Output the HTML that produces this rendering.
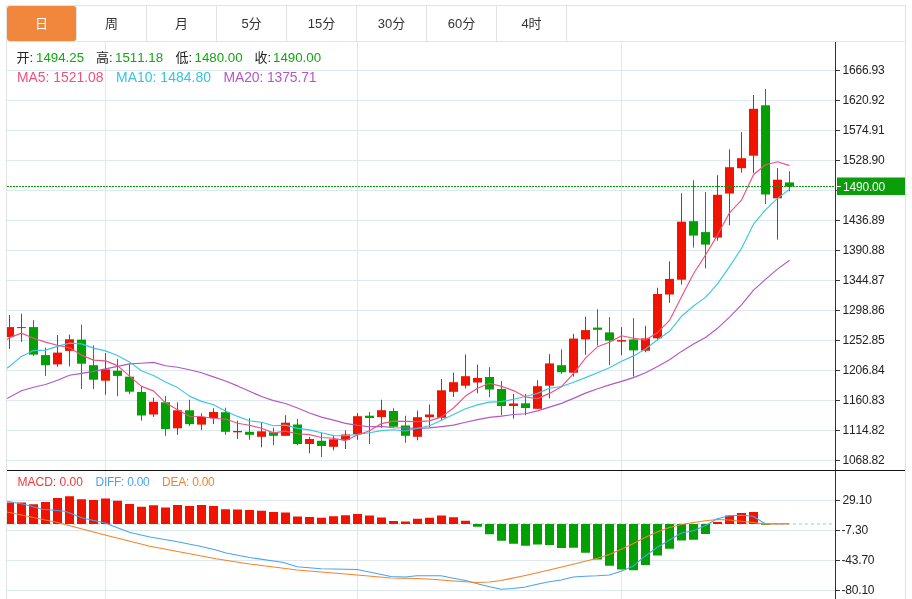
<!DOCTYPE html>
<html lang="zh"><head><meta charset="utf-8"><title>K线图</title>
<style>
html,body{margin:0;padding:0;background:#fff;}
body{width:912px;height:599px;overflow:hidden;position:relative;font-family:"Liberation Sans","Noto Sans CJK SC",sans-serif;}
#box{position:absolute;left:6px;top:5px;width:898px;height:600px;border:1px solid #e3e3e3;box-sizing:content-box;}
#tabs{position:absolute;left:7px;top:6px;height:35px;width:898px;border-bottom:1px solid #e3e3e3;}
.tab{position:absolute;top:0;height:35px;width:69px;border-right:1px solid #e3e3e3;text-align:center;line-height:36.4px;font-size:13px;color:#333;}
.tab.on{background:#f0873d;color:#fff;border-radius:3px;}
svg{position:absolute;left:0;top:0;}
text{font-kerning:none}.t{font-kerning:none}.ax{font-family:"Liberation Sans",sans-serif;font-size:12px;fill:#222;letter-spacing:-0.2px;}
.t{position:absolute;white-space:nowrap;font-size:13px;line-height:16px;}
</style></head><body>
<div id="box"></div>
<div id="tabs">
<div class="tab on" style="left:0">日</div><div class="tab" style="left:70px">周</div><div class="tab" style="left:140px">月</div><div class="tab" style="left:210px">5分</div><div class="tab" style="left:280px">15分</div><div class="tab" style="left:350px">30分</div><div class="tab" style="left:420px">60分</div><div class="tab" style="left:490px">4时</div>
</div>
<svg width="912" height="599" viewBox="0 0 912 599">
<defs><clipPath id="clipm"><rect x="7" y="42" width="828" height="428"/></clipPath><clipPath id="clipd"><rect x="7" y="471" width="828" height="128"/></clipPath></defs>
<rect x="7" y="70" width="828" height="1" fill="#dde9f1"/>
<rect x="7" y="100" width="828" height="1" fill="#dde9f1"/>
<rect x="7" y="130" width="828" height="1" fill="#dde9f1"/>
<rect x="7" y="160" width="828" height="1" fill="#dde9f1"/>
<rect x="7" y="190" width="828" height="1" fill="#dde9f1"/>
<rect x="7" y="220" width="828" height="1" fill="#dde9f1"/>
<rect x="7" y="250" width="828" height="1" fill="#dde9f1"/>
<rect x="7" y="280" width="828" height="1" fill="#dde9f1"/>
<rect x="7" y="310" width="828" height="1" fill="#dde9f1"/>
<rect x="7" y="340" width="828" height="1" fill="#dde9f1"/>
<rect x="7" y="370" width="828" height="1" fill="#dde9f1"/>
<rect x="7" y="400" width="828" height="1" fill="#dde9f1"/>
<rect x="7" y="430" width="828" height="1" fill="#dde9f1"/>
<rect x="7" y="460" width="828" height="1" fill="#dde9f1"/>
<rect x="7" y="500" width="828" height="1" fill="#dde9f1"/>
<rect x="7" y="530" width="828" height="1" fill="#dde9f1"/>
<rect x="7" y="560" width="828" height="1" fill="#dde9f1"/>
<rect x="7" y="590" width="828" height="1" fill="#dde9f1"/>
<rect x="105" y="42" width="1" height="557" fill="#dde9f1"/>
<rect x="357" y="42" width="1" height="557" fill="#dde9f1"/>
<rect x="621" y="42" width="1" height="557" fill="#dde9f1"/>
<g clip-path="url(#clipm)"><rect x="9.0" y="315.0" width="1" height="33.9" fill="#ef1300"/><rect x="5.0" y="327.1" width="9" height="10.0" fill="#ef1300"/><rect x="21.0" y="313.8" width="1" height="28.1" fill="#ef1300"/><rect x="17.0" y="327.1" width="9" height="1.0" fill="#ef1300"/><rect x="33.0" y="320.1" width="1" height="36.0" fill="#02a002"/><rect x="29.0" y="327.1" width="9" height="27.5" fill="#02a002"/><rect x="45.0" y="347.6" width="1" height="28.3" fill="#02a002"/><rect x="41.0" y="355.1" width="9" height="10.1" fill="#02a002"/><rect x="57.0" y="335.1" width="1" height="31.6" fill="#ef1300"/><rect x="53.0" y="352.6" width="9" height="11.8" fill="#ef1300"/><rect x="69.0" y="334.6" width="1" height="31.8" fill="#ef1300"/><rect x="65.0" y="339.3" width="9" height="11.6" fill="#ef1300"/><rect x="81.0" y="324.6" width="1" height="64.4" fill="#02a002"/><rect x="77.0" y="339.6" width="9" height="24.1" fill="#02a002"/><rect x="93.0" y="345.4" width="1" height="43.8" fill="#02a002"/><rect x="89.0" y="365.2" width="9" height="14.5" fill="#02a002"/><rect x="105.0" y="353.1" width="1" height="41.6" fill="#ef1300"/><rect x="101.0" y="369.4" width="9" height="11.3" fill="#ef1300"/><rect x="117.0" y="359.1" width="1" height="37.1" fill="#02a002"/><rect x="113.0" y="370.7" width="9" height="5.2" fill="#02a002"/><rect x="129.0" y="363.9" width="1" height="30.3" fill="#02a002"/><rect x="125.0" y="376.7" width="9" height="15.0" fill="#02a002"/><rect x="141.0" y="386.5" width="1" height="34.1" fill="#02a002"/><rect x="137.0" y="392.0" width="9" height="23.5" fill="#02a002"/><rect x="153.0" y="397.7" width="1" height="19.1" fill="#ef1300"/><rect x="149.0" y="401.8" width="9" height="12.7" fill="#ef1300"/><rect x="165.0" y="396.0" width="1" height="39.8" fill="#02a002"/><rect x="161.0" y="402.3" width="9" height="26.8" fill="#02a002"/><rect x="177.0" y="402.3" width="1" height="32.5" fill="#ef1300"/><rect x="173.0" y="410.3" width="9" height="18.0" fill="#ef1300"/><rect x="189.0" y="399.7" width="1" height="26.4" fill="#02a002"/><rect x="185.0" y="410.3" width="9" height="13.8" fill="#02a002"/><rect x="201.0" y="413.3" width="1" height="16.8" fill="#ef1300"/><rect x="197.0" y="417.0" width="9" height="7.6" fill="#ef1300"/><rect x="213.0" y="408.3" width="1" height="15.8" fill="#ef1300"/><rect x="209.0" y="412.0" width="9" height="6.0" fill="#ef1300"/><rect x="225.0" y="407.7" width="1" height="27.1" fill="#02a002"/><rect x="221.0" y="412.2" width="9" height="19.6" fill="#02a002"/><rect x="237.0" y="420.7" width="1" height="18.3" fill="#ef1300"/><rect x="233.0" y="431.0" width="9" height="1.3" fill="#ef1300"/><rect x="249.0" y="418.2" width="1" height="21.6" fill="#02a002"/><rect x="245.0" y="431.8" width="9" height="3.0" fill="#02a002"/><rect x="261.0" y="422.2" width="1" height="25.1" fill="#ef1300"/><rect x="257.0" y="431.3" width="9" height="5.5" fill="#ef1300"/><rect x="273.0" y="427.7" width="1" height="17.6" fill="#02a002"/><rect x="269.0" y="432.3" width="9" height="3.5" fill="#02a002"/><rect x="285.0" y="415.2" width="1" height="20.6" fill="#ef1300"/><rect x="281.0" y="422.7" width="9" height="13.1" fill="#ef1300"/><rect x="297.0" y="419.0" width="1" height="26.3" fill="#02a002"/><rect x="293.0" y="424.5" width="9" height="19.5" fill="#02a002"/><rect x="309.0" y="437.0" width="1" height="16.3" fill="#ef1300"/><rect x="305.0" y="439.0" width="9" height="5.0" fill="#ef1300"/><rect x="321.0" y="432.8" width="1" height="24.3" fill="#02a002"/><rect x="317.0" y="440.8" width="9" height="5.2" fill="#02a002"/><rect x="333.0" y="435.3" width="1" height="15.0" fill="#ef1300"/><rect x="329.0" y="439.3" width="9" height="7.5" fill="#ef1300"/><rect x="345.0" y="430.3" width="1" height="18.7" fill="#ef1300"/><rect x="341.0" y="434.5" width="9" height="5.3" fill="#ef1300"/><rect x="357.0" y="413.2" width="1" height="26.6" fill="#ef1300"/><rect x="353.0" y="416.2" width="9" height="17.8" fill="#ef1300"/><rect x="369.0" y="412.0" width="1" height="32.0" fill="#02a002"/><rect x="365.0" y="415.7" width="9" height="2.3" fill="#02a002"/><rect x="381.0" y="399.7" width="1" height="28.0" fill="#ef1300"/><rect x="377.0" y="410.2" width="9" height="6.8" fill="#ef1300"/><rect x="393.0" y="408.2" width="1" height="19.5" fill="#02a002"/><rect x="389.0" y="411.0" width="9" height="15.7" fill="#02a002"/><rect x="405.0" y="415.7" width="1" height="27.1" fill="#02a002"/><rect x="401.0" y="425.5" width="9" height="10.3" fill="#02a002"/><rect x="417.0" y="410.5" width="1" height="29.8" fill="#ef1300"/><rect x="413.0" y="417.2" width="9" height="19.6" fill="#ef1300"/><rect x="429.0" y="404.4" width="1" height="22.8" fill="#ef1300"/><rect x="425.0" y="414.5" width="9" height="2.7" fill="#ef1300"/><rect x="441.0" y="379.0" width="1" height="41.3" fill="#ef1300"/><rect x="437.0" y="390.3" width="9" height="27.5" fill="#ef1300"/><rect x="453.0" y="372.7" width="1" height="24.3" fill="#ef1300"/><rect x="449.0" y="382.2" width="9" height="9.6" fill="#ef1300"/><rect x="465.0" y="354.4" width="1" height="34.1" fill="#ef1300"/><rect x="461.0" y="376.2" width="9" height="9.5" fill="#ef1300"/><rect x="477.0" y="364.7" width="1" height="28.6" fill="#ef1300"/><rect x="473.0" y="378.0" width="9" height="4.5" fill="#ef1300"/><rect x="489.0" y="367.2" width="1" height="30.1" fill="#02a002"/><rect x="485.0" y="377.0" width="9" height="12.5" fill="#02a002"/><rect x="501.0" y="381.0" width="1" height="34.3" fill="#02a002"/><rect x="497.0" y="389.0" width="9" height="17.0" fill="#02a002"/><rect x="513.0" y="394.0" width="1" height="24.6" fill="#ef1300"/><rect x="509.0" y="403.5" width="9" height="2.5" fill="#ef1300"/><rect x="525.0" y="394.0" width="1" height="21.3" fill="#02a002"/><rect x="521.0" y="403.3" width="9" height="4.7" fill="#02a002"/><rect x="537.0" y="380.2" width="1" height="28.6" fill="#ef1300"/><rect x="533.0" y="386.2" width="9" height="22.6" fill="#ef1300"/><rect x="549.0" y="354.2" width="1" height="44.1" fill="#ef1300"/><rect x="545.0" y="363.4" width="9" height="22.3" fill="#ef1300"/><rect x="561.0" y="349.4" width="1" height="24.6" fill="#02a002"/><rect x="557.0" y="365.2" width="9" height="7.0" fill="#02a002"/><rect x="573.0" y="333.9" width="1" height="42.6" fill="#ef1300"/><rect x="569.0" y="338.6" width="9" height="34.1" fill="#ef1300"/><rect x="585.0" y="316.8" width="1" height="37.9" fill="#ef1300"/><rect x="581.0" y="330.1" width="9" height="9.3" fill="#ef1300"/><rect x="597.0" y="309.3" width="1" height="36.3" fill="#02a002"/><rect x="593.0" y="327.6" width="9" height="2.2" fill="#02a002"/><rect x="609.0" y="317.1" width="1" height="48.1" fill="#02a002"/><rect x="605.0" y="332.4" width="9" height="8.2" fill="#02a002"/><rect x="621.0" y="327.1" width="1" height="28.1" fill="#ef1300"/><rect x="617.0" y="340.1" width="9" height="1.5" fill="#ef1300"/><rect x="633.0" y="318.1" width="1" height="58.4" fill="#02a002"/><rect x="629.0" y="339.4" width="9" height="11.0" fill="#02a002"/><rect x="645.0" y="325.8" width="1" height="26.4" fill="#ef1300"/><rect x="641.0" y="338.4" width="9" height="12.3" fill="#ef1300"/><rect x="657.0" y="287.7" width="1" height="52.7" fill="#ef1300"/><rect x="653.0" y="294.0" width="9" height="44.3" fill="#ef1300"/><rect x="669.0" y="261.4" width="1" height="41.4" fill="#ef1300"/><rect x="665.0" y="278.9" width="9" height="15.6" fill="#ef1300"/><rect x="681.0" y="193.3" width="1" height="91.2" fill="#ef1300"/><rect x="677.0" y="221.7" width="9" height="58.0" fill="#ef1300"/><rect x="693.0" y="180.3" width="1" height="67.3" fill="#02a002"/><rect x="689.0" y="221.2" width="9" height="14.4" fill="#02a002"/><rect x="705.0" y="192.0" width="1" height="76.4" fill="#02a002"/><rect x="701.0" y="232.1" width="9" height="12.5" fill="#02a002"/><rect x="717.0" y="175.2" width="1" height="65.4" fill="#ef1300"/><rect x="713.0" y="194.8" width="9" height="42.8" fill="#ef1300"/><rect x="729.0" y="149.4" width="1" height="75.9" fill="#ef1300"/><rect x="725.0" y="167.2" width="9" height="26.3" fill="#ef1300"/><rect x="741.0" y="132.1" width="1" height="40.6" fill="#ef1300"/><rect x="737.0" y="158.2" width="9" height="10.0" fill="#ef1300"/><rect x="753.0" y="95.0" width="1" height="78.2" fill="#ef1300"/><rect x="749.0" y="108.8" width="9" height="46.9" fill="#ef1300"/><rect x="765.0" y="89.0" width="1" height="115.0" fill="#02a002"/><rect x="761.0" y="105.3" width="9" height="89.2" fill="#02a002"/><rect x="777.0" y="168.2" width="1" height="71.4" fill="#ef1300"/><rect x="773.0" y="179.7" width="9" height="18.6" fill="#ef1300"/><rect x="789.0" y="171.3" width="1" height="20.0" fill="#02a002"/><rect x="785.0" y="182.4" width="9" height="4.2" fill="#02a002"/></g>
<g clip-path="url(#clipm)"><polyline fill="none" stroke="#b356c6" stroke-width="1.15" stroke-linejoin="round" points="7.1,398.5 21.5,390.7 33.5,387.2 45.5,384.5 57.5,380.2 69.5,375.2 81.5,373.4 93.5,371.4 105.5,368.9 117.5,366.4 129.5,363.9 141.5,363.2 153.5,362.4 165.5,365.7 177.5,367.2 189.5,369.7 201.5,372.7 213.5,376.9 225.5,381.0 237.5,385.9 249.5,391.3 261.5,396.5 273.5,400.6 285.5,403.5 297.5,408.0 309.5,413.0 321.5,417.1 333.5,420.1 345.5,423.4 357.5,425.4 369.5,426.7 381.5,426.4 393.5,427.7 405.5,428.0 417.5,428.4 429.5,427.9 441.5,426.6 453.5,425.1 465.5,422.3 477.5,419.6 489.5,417.4 501.5,416.1 513.5,414.5 525.5,413.8 537.5,410.9 549.5,407.1 561.5,403.4 573.5,398.4 585.5,393.1 597.5,388.8 609.5,384.9 621.5,381.4 633.5,377.6 645.5,372.8 657.5,366.6 669.5,359.8 681.5,351.4 693.5,344.1 705.5,337.5 717.5,328.3 729.5,317.2 741.5,304.8 753.5,290.1 765.5,279.4 777.5,269.1 789.5,260.2"/><polyline fill="none" stroke="#3ec6e0" stroke-width="1.15" stroke-linejoin="round" points="7.1,368.2 21.5,356.4 33.5,350.6 45.5,350.1 57.5,346.4 69.5,343.1 81.5,343.9 93.5,348.1 105.5,350.9 117.5,355.5 129.5,361.9 141.5,370.8 153.5,375.5 165.5,381.9 177.5,387.6 189.5,396.1 201.5,401.4 213.5,404.7 225.5,410.9 237.5,416.4 249.5,420.7 261.5,422.3 273.5,425.7 285.5,425.1 297.5,428.4 309.5,429.9 321.5,432.8 333.5,435.6 345.5,435.8 357.5,434.4 369.5,432.7 381.5,430.6 393.5,429.7 405.5,431.0 417.5,428.3 429.5,425.8 441.5,420.3 453.5,414.6 465.5,408.7 477.5,404.9 489.5,402.1 501.5,401.6 513.5,399.3 525.5,396.5 537.5,393.4 549.5,388.3 561.5,386.5 573.5,382.2 585.5,377.6 597.5,372.7 609.5,367.8 621.5,361.2 633.5,355.9 645.5,349.0 657.5,339.8 669.5,331.3 681.5,316.3 693.5,306.0 705.5,297.4 717.5,283.9 729.5,266.6 741.5,248.4 753.5,224.2 765.5,209.8 777.5,198.4 789.5,189.2"/><polyline fill="none" stroke="#f0527f" stroke-width="1.15" stroke-linejoin="round" points="7.1,339.6 9.5,337.6 21.5,333.1 33.5,338.3 45.5,342.1 57.5,345.3 69.5,347.8 81.5,355.1 93.5,360.1 105.5,360.9 117.5,365.6 129.5,376.1 141.5,386.4 153.5,390.9 165.5,402.8 177.5,409.7 189.5,416.2 201.5,416.5 213.5,418.5 225.5,419.0 237.5,423.2 249.5,425.3 261.5,428.2 273.5,432.9 285.5,431.1 297.5,433.7 309.5,434.6 321.5,437.5 333.5,438.2 345.5,440.6 357.5,435.0 369.5,430.8 381.5,423.6 393.5,421.1 405.5,421.4 417.5,421.6 429.5,420.9 441.5,416.9 453.5,408.0 465.5,396.1 477.5,388.2 489.5,383.2 501.5,386.4 513.5,390.6 525.5,397.0 537.5,398.6 549.5,393.4 561.5,386.7 573.5,373.7 585.5,358.1 597.5,346.8 609.5,342.3 621.5,335.8 633.5,338.2 645.5,339.9 657.5,332.7 669.5,320.4 681.5,296.7 693.5,273.7 705.5,255.0 717.5,235.1 729.5,212.8 741.5,200.1 753.5,174.7 765.5,164.7 777.5,161.7 789.5,165.6"/></g>
<line x1="7" y1="523.9" x2="833" y2="523.9" stroke="#b9e1f6" stroke-width="1.7" stroke-dasharray="2.8,3.2"/>
<g clip-path="url(#clipd)"><rect x="5.0" y="502.50" width="9" height="21.50" fill="#ef1300"/><rect x="17.0" y="502.50" width="9" height="21.50" fill="#ef1300"/><rect x="29.0" y="504.25" width="9" height="19.75" fill="#ef1300"/><rect x="41.0" y="502.00" width="9" height="22.00" fill="#ef1300"/><rect x="53.0" y="498.00" width="9" height="26.00" fill="#ef1300"/><rect x="65.0" y="496.25" width="9" height="27.75" fill="#ef1300"/><rect x="77.0" y="499.25" width="9" height="24.75" fill="#ef1300"/><rect x="89.0" y="500.00" width="9" height="24.00" fill="#ef1300"/><rect x="101.0" y="498.50" width="9" height="25.50" fill="#ef1300"/><rect x="113.0" y="500.75" width="9" height="23.25" fill="#ef1300"/><rect x="125.0" y="504.00" width="9" height="20.00" fill="#ef1300"/><rect x="137.0" y="506.75" width="9" height="17.25" fill="#ef1300"/><rect x="149.0" y="505.25" width="9" height="18.75" fill="#ef1300"/><rect x="161.0" y="507.50" width="9" height="16.50" fill="#ef1300"/><rect x="173.0" y="505.00" width="9" height="19.00" fill="#ef1300"/><rect x="185.0" y="506.00" width="9" height="18.00" fill="#ef1300"/><rect x="197.0" y="505.00" width="9" height="19.00" fill="#ef1300"/><rect x="209.0" y="506.00" width="9" height="18.00" fill="#ef1300"/><rect x="221.0" y="509.25" width="9" height="14.75" fill="#ef1300"/><rect x="233.0" y="509.50" width="9" height="14.50" fill="#ef1300"/><rect x="245.0" y="510.00" width="9" height="14.00" fill="#ef1300"/><rect x="257.0" y="510.75" width="9" height="13.25" fill="#ef1300"/><rect x="269.0" y="512.00" width="9" height="12.00" fill="#ef1300"/><rect x="281.0" y="512.50" width="9" height="11.50" fill="#ef1300"/><rect x="293.0" y="516.50" width="9" height="7.50" fill="#ef1300"/><rect x="305.0" y="517.00" width="9" height="7.00" fill="#ef1300"/><rect x="317.0" y="517.75" width="9" height="6.25" fill="#ef1300"/><rect x="329.0" y="516.25" width="9" height="7.75" fill="#ef1300"/><rect x="341.0" y="515.25" width="9" height="8.75" fill="#ef1300"/><rect x="353.0" y="514.00" width="9" height="10.00" fill="#ef1300"/><rect x="365.0" y="515.50" width="9" height="8.50" fill="#ef1300"/><rect x="377.0" y="517.50" width="9" height="6.50" fill="#ef1300"/><rect x="389.0" y="521.00" width="9" height="3.00" fill="#ef1300"/><rect x="401.0" y="521.50" width="9" height="2.50" fill="#ef1300"/><rect x="413.0" y="518.75" width="9" height="5.25" fill="#ef1300"/><rect x="425.0" y="517.75" width="9" height="6.25" fill="#ef1300"/><rect x="437.0" y="515.50" width="9" height="8.50" fill="#ef1300"/><rect x="449.0" y="517.25" width="9" height="6.75" fill="#ef1300"/><rect x="461.0" y="520.75" width="9" height="3.25" fill="#ef1300"/><rect x="473.0" y="524.00" width="9" height="2.75" fill="#02a002"/><rect x="485.0" y="524.00" width="9" height="10.25" fill="#02a002"/><rect x="497.0" y="524.00" width="9" height="16.75" fill="#02a002"/><rect x="509.0" y="524.00" width="9" height="19.75" fill="#02a002"/><rect x="521.0" y="524.00" width="9" height="21.75" fill="#02a002"/><rect x="533.0" y="524.00" width="9" height="20.50" fill="#02a002"/><rect x="545.0" y="524.00" width="9" height="21.00" fill="#02a002"/><rect x="557.0" y="524.00" width="9" height="24.00" fill="#02a002"/><rect x="569.0" y="524.00" width="9" height="23.75" fill="#02a002"/><rect x="581.0" y="524.00" width="9" height="28.75" fill="#02a002"/><rect x="593.0" y="524.00" width="9" height="35.50" fill="#02a002"/><rect x="605.0" y="524.00" width="9" height="41.75" fill="#02a002"/><rect x="617.0" y="524.00" width="9" height="45.50" fill="#02a002"/><rect x="629.0" y="524.00" width="9" height="46.25" fill="#02a002"/><rect x="641.0" y="524.00" width="9" height="41.00" fill="#02a002"/><rect x="653.0" y="524.00" width="9" height="31.50" fill="#02a002"/><rect x="665.0" y="524.00" width="9" height="24.75" fill="#02a002"/><rect x="677.0" y="524.00" width="9" height="16.50" fill="#02a002"/><rect x="689.0" y="524.00" width="9" height="15.75" fill="#02a002"/><rect x="701.0" y="524.00" width="9" height="10.00" fill="#02a002"/><rect x="713.0" y="522.00" width="9" height="2.00" fill="#ef1300"/><rect x="725.0" y="515.50" width="9" height="8.50" fill="#ef1300"/><rect x="737.0" y="513.00" width="9" height="11.00" fill="#ef1300"/><rect x="749.0" y="512.00" width="9" height="12.00" fill="#ef1300"/><rect x="761.0" y="524.00" width="9" height="0.80" fill="#02a002"/></g>
<g clip-path="url(#clipd)"><polyline fill="none" stroke="#4aa3ee" stroke-width="1.1" stroke-linejoin="round" points="7.0,501.2 25.0,504.5 42.5,509.2 65.0,511.2 82.5,518.0 105.0,523.0 130.0,532.5 150.0,537.0 175.0,541.2 200.0,546.2 216.0,550.0 226.0,553.0 249.5,557.5 283.5,562.5 297.2,566.8 321.0,568.8 357.2,569.5 391.0,576.5 405.2,577.0 417.0,575.8 441.0,575.8 453.5,578.2 465.5,580.5 477.5,583.8 489.5,586.8 501.2,589.2 513.2,588.5 525.2,587.0 537.2,584.2 549.2,581.8 561.2,580.0 573.2,577.0 585.2,576.2 597.2,575.8 609.2,575.0 621.2,571.2 633.0,566.2 645.0,556.2 657.0,547.5 669.5,540.0 681.5,533.0 693.5,530.8 705.5,525.5 717.2,518.8 729.2,515.8 741.2,515.2 753.2,516.2 765.2,523.8 777.2,523.8 789.2,523.8"/><polyline fill="none" stroke="#f5822a" stroke-width="1.1" stroke-linejoin="round" points="7.0,512.0 57.5,522.5 105.0,535.0 150.0,546.2 216.0,558.8 249.5,564.0 297.2,570.0 357.2,575.0 391.0,578.0 416.0,578.5 432.0,579.2 453.5,581.0 477.5,582.5 489.5,582.0 501.2,580.5 525.2,575.5 549.2,570.0 573.2,564.2 597.2,558.2 609.2,554.5 621.2,549.2 633.0,543.8 645.0,537.5 657.0,532.0 669.5,527.5 681.5,524.5 693.5,522.5 705.5,520.8 717.2,519.5 729.2,520.0 741.2,521.2 753.2,522.5 765.2,524.0 789.2,524.0"/></g>
<line x1="7" y1="186.5" x2="834" y2="186.5" stroke="#0a9f0a" stroke-width="1" stroke-dasharray="2,1"/>
<rect x="835" y="42" width="1" height="557" fill="#333"/>
<rect x="7" y="470" width="898" height="1" fill="#111"/>
<rect x="836" y="70" width="4" height="1" fill="#333"/>
<text x="842.6" y="74.2" class="ax">1666.93</text>
<rect x="836" y="100" width="4" height="1" fill="#333"/>
<text x="842.6" y="104.2" class="ax">1620.92</text>
<rect x="836" y="130" width="4" height="1" fill="#333"/>
<text x="842.6" y="134.2" class="ax">1574.91</text>
<rect x="836" y="160" width="4" height="1" fill="#333"/>
<text x="842.6" y="164.2" class="ax">1528.90</text>
<rect x="836" y="190" width="4" height="1" fill="#333"/>
<rect x="836" y="220" width="4" height="1" fill="#333"/>
<text x="842.6" y="224.2" class="ax">1436.89</text>
<rect x="836" y="250" width="4" height="1" fill="#333"/>
<text x="842.6" y="254.2" class="ax">1390.88</text>
<rect x="836" y="280" width="4" height="1" fill="#333"/>
<text x="842.6" y="284.2" class="ax">1344.87</text>
<rect x="836" y="310" width="4" height="1" fill="#333"/>
<text x="842.6" y="314.2" class="ax">1298.86</text>
<rect x="836" y="340" width="4" height="1" fill="#333"/>
<text x="842.6" y="344.2" class="ax">1252.85</text>
<rect x="836" y="370" width="4" height="1" fill="#333"/>
<text x="842.6" y="374.2" class="ax">1206.84</text>
<rect x="836" y="400" width="4" height="1" fill="#333"/>
<text x="842.6" y="404.2" class="ax">1160.83</text>
<rect x="836" y="430" width="4" height="1" fill="#333"/>
<text x="842.6" y="434.2" class="ax">1114.82</text>
<rect x="836" y="460" width="4" height="1" fill="#333"/>
<text x="842.6" y="464.2" class="ax">1068.82</text>
<rect x="836" y="500" width="4" height="1" fill="#333"/>
<text x="842.6" y="504.2" class="ax">29.10</text>
<rect x="836" y="530" width="4" height="1" fill="#333"/>
<text x="841.5" y="534.2" class="ax">-7.30</text>
<rect x="836" y="560" width="4" height="1" fill="#333"/>
<text x="841.5" y="564.2" class="ax">-43.70</text>
<rect x="836" y="590" width="4" height="1" fill="#333"/>
<text x="841.5" y="594.2" class="ax">-80.10</text>
<rect x="837" y="177.5" width="68" height="17.5" fill="#0a9f0a"/>
<rect x="837" y="186" width="4" height="1" fill="#fff"/>
<text x="843" y="191.3" class="ax" fill="#fff" style="fill:#fff">1490.00</text>
</svg>
<div class="t" style="left:16.5px;top:50px;color:#222">开:</div><div class="t" style="left:36px;top:50px;color:#12a812;font-size:13.3px">1494.25</div>
<div class="t" style="left:96px;top:50px;color:#222">高:</div><div class="t" style="left:115px;top:50px;color:#12a812;font-size:13.3px">1511.18</div>
<div class="t" style="left:175.5px;top:50px;color:#222">低:</div><div class="t" style="left:194.5px;top:50px;color:#12a812;font-size:13.3px">1480.00</div>
<div class="t" style="left:254.5px;top:50px;color:#222">收:</div><div class="t" style="left:273px;top:50px;color:#12a812;font-size:13.3px">1490.00</div>
<div class="t" id="m5" style="font-size:13.9px;left:17px;top:68.5px;color:#f0527f">MA5: 1521.08</div>
<div class="t" id="m10" style="font-size:13.9px;letter-spacing:0.06px;left:116px;top:68.5px;color:#35c4dc">MA10: 1484.80</div>
<div class="t" id="m20" style="font-size:13.9px;letter-spacing:-0.1px;left:223.5px;top:68.5px;color:#b356c6">MA20: 1375.71</div>
<div class="t" id="d1" style="left:17.5px;top:474px;color:#ee3a3a;font-size:12px">MACD: 0.00</div>
<div class="t" id="d2" style="left:95.5px;top:474px;color:#4aa3ee;font-size:12px;letter-spacing:-0.27px">DIFF: 0.00</div>
<div class="t" id="d3" style="left:162px;top:474px;color:#f5822a;font-size:12px;letter-spacing:-0.24px">DEA: 0.00</div>
</body></html>
